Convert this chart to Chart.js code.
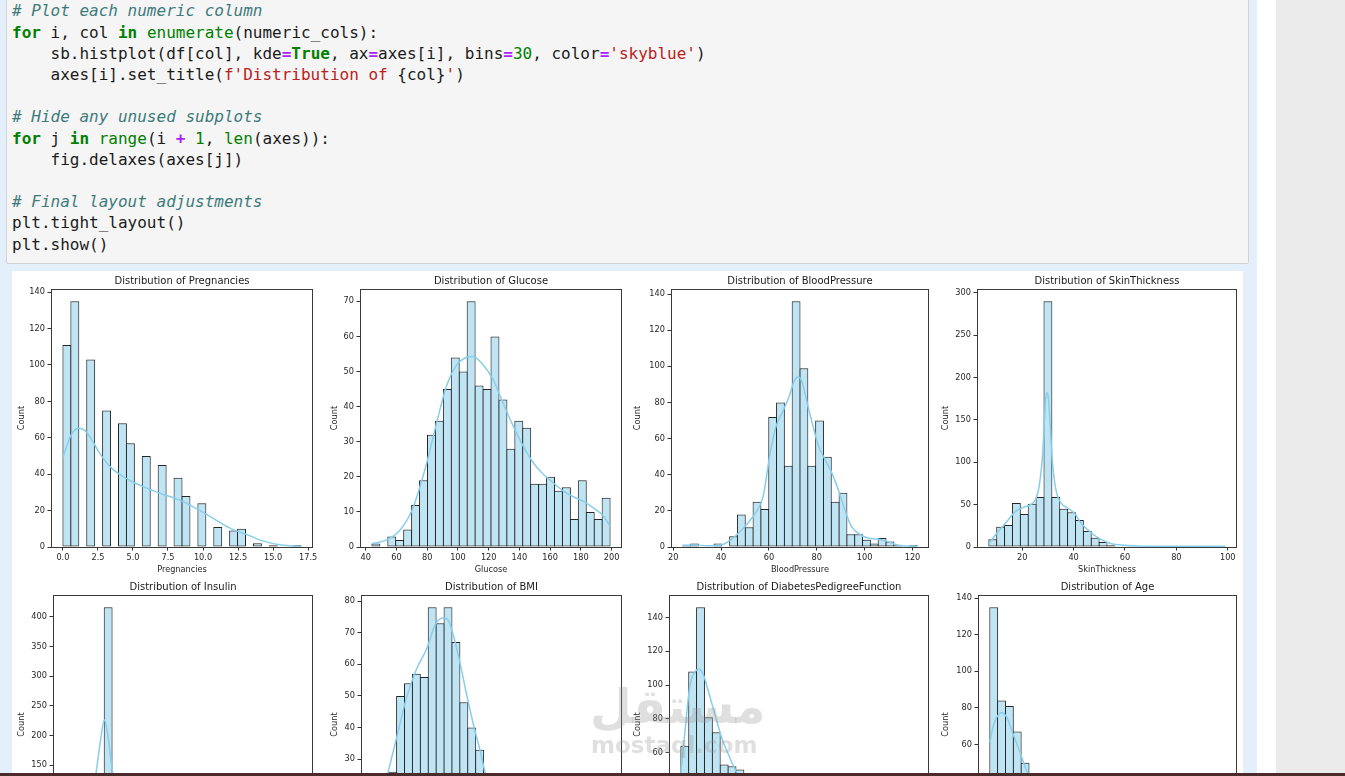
<!doctype html>
<meta charset="utf-8">
<title>Distribution of numeric columns</title>
<style>
    body {
        margin: 0;
        width: 1345px;
        height: 776px;
        overflow: hidden;
        position: relative;
        background: #fff;
        font-family: "DejaVu Sans", sans-serif;
    }
    .cellbg { position: absolute; left: 0; top: 0; width: 1257px; height: 776px; background: #e3effa; }
    .side { position: absolute; left: 1276px; top: 0; width: 69px; height: 776px; background: #ebebeb; }
    .code {
        position: absolute; left: 6px; top: -2px; width: 1243px; height: 266px;
        background: #f5f5f5; border: 1px solid #d2d2d2; border-radius: 2px; box-sizing: border-box;
    }
    .code pre {
        margin: 0; position: absolute; left: 5px; top: 1.4px;
        font: 16px/21.2px "DejaVu Sans Mono", monospace; color: #1b1b1b;
    }
    .c { color: #3d7b7b; font-style: italic; }
    .k { color: #008000; font-weight: bold; }
    .nb { color: #008000; }
    .o { color: #aa22ff; font-weight: bold; }
    .m { color: #008000; }
    .s { color: #ba2121; }
    .figure { position: absolute; left: 12px; top: 271px; width: 1231px; height: 502px; background: #fff; overflow: hidden; }
    .plot { position: absolute; }
    .mark { position: absolute; color: rgba(150,150,150,0.3); font-weight: bold; white-space: nowrap; }
    .taskbar { position: absolute; left: 0; top: 773px; width: 1345px; height: 3px; background: #4a2a2a; }
</style>
<body>
    <div class="cellbg"></div>
    <div class="side"></div>
    <div class="code"><pre><span class="c"># Plot each numeric column</span>
<span class="k">for</span> i, col <span class="k">in</span> <span class="nb">enumerate</span>(numeric_cols):
    sb.histplot(df[col], kde<span class="o">=</span><span class="k">True</span>, ax<span class="o">=</span>axes[i], bins<span class="o">=</span><span class="m">30</span>, color<span class="o">=</span><span class="s">'skyblue'</span>)
    axes[i].set_title(<span class="s">f'Distribution of </span>{col}<span class="s">'</span>)

<span class="c"># Hide any unused subplots</span>
<span class="k">for</span> j <span class="k">in</span> <span class="nb">range</span>(i <span class="o">+</span> <span class="m">1</span>, <span class="nb">len</span>(axes)):
    fig.delaxes(axes[j])

<span class="c"># Final layout adjustments</span>
plt.tight_layout()
plt.show()</pre></div>
    <div class="figure" id="figure"></div>
    <div class="mark" style="left:590px; top:678px; font-size:48px;">مستقل</div>
    <div class="mark" style="left:591px; top:732px; font-size:23px;">mostaql.com</div>
    <div class="taskbar"></div>

    <script src="https://cdn.jsdelivr.net/npm/chart.js@4.4.1/dist/chart.umd.min.js"></script>
    <script>
        // histogram counts (30 bins each), data range, kde curve, ticks
        const pregnanciesCounts = [111, 135, 0, 103, 0, 75, 0, 68, 57, 0, 50, 0, 45, 0, 38, 28, 0, 24, 0, 11, 0, 9, 10, 0, 2, 0, 1, 0, 0, 1];
        const pregnanciesRange = [0, 17];
        const pregnanciesKde = [[0, 48.9], [0.3, 56.2], [0.66, 62.6], [1.15, 65.3], [1.64, 63.5], [2.13, 58], [2.62, 51.6], [3.35, 44.3], [4.09, 39.7], [4.82, 36.4], [5.8, 32.9], [7.02, 29.3], [8.25, 26], [9.47, 21.4], [10.7, 15.9], [11.92, 10.4], [13.14, 6.8], [14.37, 3.1], [15.59, 1.1], [16.81, 0.4], [17, 0.3]];
        const pregnanciesTicks = [0, 2.5, 5, 7.5, 10, 12.5, 15, 17.5];
        const pregnanciesCountTicks = [0, 20, 40, 60, 80, 100, 120, 140];

        const glucoseCounts = [1, 0, 3, 2, 5, 12, 19, 32, 36, 45, 54, 50, 70, 46, 45, 60, 42, 28, 36, 34, 18, 18, 20, 16, 17, 8, 19, 10, 8, 14];
        const glucoseRange = [44, 199];
        const glucoseKde = [[44, 1], [52.9, 1.9], [61.6, 4.5], [70.3, 10.7], [79.1, 23], [85.6, 34.5], [92.2, 45.4], [98.7, 51.6], [105.3, 54], [109.7, 54.3], [116.2, 52], [122.7, 47.8], [129.3, 41.1], [135.9, 34.5], [142.4, 28.8], [149, 24], [155.5, 20.7], [162, 18.3], [168.6, 15.9], [175.2, 14.3], [181.7, 13], [188.3, 11.1], [194.8, 8.8], [199, 5.9]];
        const glucoseTicks = [40, 60, 80, 100, 120, 140, 160, 180, 200];
        const glucoseCountTicks = [0, 10, 20, 30, 40, 50, 60, 70];

        const bloodPressureCounts = [1, 2, 0, 0, 2, 0, 6, 18, 11, 25, 21, 72, 80, 45, 136, 99, 45, 70, 50, 25, 30, 7, 7, 4, 2, 5, 3, 1, 0, 1];
        const bloodPressureRange = [24, 122];
        const bloodPressureKde = [[24, 0.9], [28.9, 1.1], [34.3, 0.7], [39.8, 1.1], [42.5, 2.6], [46.6, 6.8], [50.7, 12.4], [54.8, 19.7], [57.6, 28], [60.3, 50.2], [63, 66.8], [65.8, 75], [68.5, 83.4], [70.5, 91.7], [72.3, 94.1], [74, 90.8], [76, 79.7], [78.1, 68.6], [80.8, 55.7], [83.5, 48.3], [86.3, 41], [89, 31.7], [91.7, 20.7], [94.5, 11.4], [97.2, 7.7], [101.3, 5], [105.4, 4.4], [109.5, 3.1], [113.6, 1.1], [118, 0.5], [122, 0.4]];
        const bloodPressureTicks = [20, 40, 60, 80, 100, 120];
        const bloodPressureCountTicks = [0, 20, 40, 60, 80, 100, 120, 140];

        const skinThicknessCounts = [9, 24, 26, 52, 39, 51, 59, 290, 59, 45, 41, 32, 19, 11, 6, 2, 1, 1, 1, 0, 0, 0, 0, 0, 0, 0, 0, 0, 0, 1];
        const skinThicknessRange = [7, 99];
        const skinThicknessKde = [[7, 4], [10.2, 16.5], [14.1, 30.3], [17.4, 42], [20.7, 47], [23.3, 50], [25.2, 56], [26.6, 71.6], [27.9, 107], [28.8, 158], [29.4, 182], [30.1, 178], [30.9, 142.5], [31.8, 99], [33.1, 67.7], [35.1, 52], [37.7, 46], [40.3, 40], [42.9, 28.3], [46.9, 16.5], [50.8, 8.7], [54.7, 3.9], [60, 2], [65.2, 1.2], [75.7, 0.8], [88.8, 0.8], [99, 0.8]];
        const skinThicknessTicks = [20, 40, 60, 80, 100];
        const skinThicknessCountTicks = [0, 50, 100, 150, 200, 250, 300];

        const insulinCounts = [25, 55, 62, 55, 45, 416, 28, 15, 14, 10, 9, 7, 5, 4, 3, 3, 2, 2, 1, 1, 1, 1, 0, 1, 0, 0, 0, 0, 0, 1];
        const insulinRange = [14, 846];
        const insulinKde = [[14, 20], [50, 42], [80, 58], [100, 80], [123.8, 137], [137.8, 185], [153, 226], [167, 195], [180, 145], [200, 95], [230, 60], [300, 30], [400, 15], [500, 8], [600, 4], [700, 2], [846, 0.5]];
        const insulinTicks = [0, 200, 400, 600, 800];
        const insulinCountTicks = [0, 50, 100, 150, 200, 250, 300, 350, 400];

        const bmiCounts = [5, 12, 26, 50, 54, 57, 56, 78, 73, 78, 67, 48, 40, 33, 24, 20, 16, 9, 6, 5, 3, 3, 1, 1, 0, 1, 0, 0, 0, 1];
        const bmiRange = [18.2, 67.1];
        const bmiKde = [[18.2, 8], [19.8, 15], [21.38, 26], [23.11, 36.9], [25.17, 49.6], [27.2, 58.5], [29.3, 64.9], [31, 72.3], [32.7, 74.7], [33.75, 73.9], [34.8, 69.1], [36.2, 60.1], [37.5, 50.6], [38.9, 41.1], [40.3, 32.7], [41.3, 26], [43, 20], [46, 13], [50, 7], [55, 3.5], [60, 1.5], [67.1, 0.5]];
        const bmiTicks = [20, 30, 40, 50, 60];
        const bmiCountTicks = [0, 10, 20, 30, 40, 50, 60, 70, 80];

        const pedigreeCounts = [64, 108, 146, 81, 72, 53, 52, 50, 35, 26, 20, 14, 11, 8, 6, 5, 4, 3, 2, 2, 1, 1, 1, 0, 1, 0, 0, 0, 0, 1];
        const pedigreeRange = [0.078, 2.42];
        const pedigreeKde = [[0.078, 48], [0.117, 71.3], [0.166, 98.8], [0.216, 107.7], [0.255, 109.3], [0.298, 106.7], [0.348, 96.9], [0.414, 83], [0.48, 69.3], [0.546, 59.4], [0.629, 48.6], [0.75, 38], [0.9, 28], [1.1, 18], [1.3, 11], [1.5, 7], [1.7, 4], [1.9, 2.5], [2.1, 1.5], [2.42, 0.5]];
        const pedigreeTicks = [0, 0.5, 1, 1.5, 2, 2.5];
        const pedigreeCountTicks = [0, 20, 40, 60, 80, 100, 120, 140];

        const ageCounts = [135, 84, 81, 67, 50, 40, 30, 26, 35, 25, 35, 22, 24, 11, 13, 16, 9, 8, 12, 8, 7, 4, 6, 5, 2, 1, 0, 0, 0, 1];
        const ageRange = [21, 81];
        const ageKde = [[21, 61], [22, 70.8], [23.2, 76.3], [24.1, 77.3], [25.4, 74.5], [27, 65.3], [28.8, 55.2], [30.5, 45], [33, 37], [36, 32], [40, 28], [45, 22], [50, 15], [55, 10], [60, 7], [65, 4], [70, 2], [75, 1], [81, 0.5]];
        const ageTicks = [20, 30, 40, 50, 60, 70, 80];
        const ageCountTicks = [0, 20, 40, 60, 80, 100, 120, 140];

        const columns = [
            {name: "Pregnancies", counts: pregnanciesCounts, range: pregnanciesRange, kde: pregnanciesKde, xTicks: pregnanciesTicks, yTicks: pregnanciesCountTicks, decimals: 1},
            {name: "Glucose", counts: glucoseCounts, range: glucoseRange, kde: glucoseKde, xTicks: glucoseTicks, yTicks: glucoseCountTicks, decimals: 0},
            {name: "BloodPressure", counts: bloodPressureCounts, range: bloodPressureRange, kde: bloodPressureKde, xTicks: bloodPressureTicks, yTicks: bloodPressureCountTicks, decimals: 0},
            {name: "SkinThickness", counts: skinThicknessCounts, range: skinThicknessRange, kde: skinThicknessKde, xTicks: skinThicknessTicks, yTicks: skinThicknessCountTicks, decimals: 0},
            {name: "Insulin", counts: insulinCounts, range: insulinRange, kde: insulinKde, xTicks: insulinTicks, yTicks: insulinCountTicks, decimals: 0},
            {name: "BMI", counts: bmiCounts, range: bmiRange, kde: bmiKde, xTicks: bmiTicks, yTicks: bmiCountTicks, decimals: 0},
            {name: "DiabetesPedigreeFunction", counts: pedigreeCounts, range: pedigreeRange, kde: pedigreeKde, xTicks: pedigreeTicks, yTicks: pedigreeCountTicks, decimals: 1},
            {name: "Age", counts: ageCounts, range: ageRange, kde: ageKde, xTicks: ageTicks, yTicks: ageCountTicks, decimals: 0},
        ];

        // axes boxes in page pixels (2 rows x 4), gap = distance of "Count" label from the axes
        const slots = [
            {left: 51, top: 289, right: 313, bottom: 547, gap: 29},
            {left: 360, top: 289, right: 622, bottom: 547, gap: 25},
            {left: 671, top: 289, right: 929, bottom: 547, gap: 33},
            {left: 977, top: 289, right: 1237, bottom: 547, gap: 31},
            {left: 53, top: 595, right: 313, bottom: 854, gap: 31},
            {left: 361, top: 595, right: 622, bottom: 854, gap: 26},
            {left: 669, top: 595, right: 929, bottom: 854, gap: 31},
            {left: 978, top: 595, right: 1237, bottom: 854, gap: 32},
        ];

        const FIG_X = 12, FIG_Y = 271;
        const Y_AXIS_W = 42, X_AXIS_H = 34, TOP_PAD = 20, RIGHT_PAD = 10;
        const inkColor = "#262626";

        Chart.defaults.font.family = '"DejaVu Sans", sans-serif';
        Chart.defaults.color = inkColor;

        // matplotlib-like spines and axes title
        const framePlugin = {
            id: "frame",
            afterDraw(chart, args, opts) {
                const {ctx, chartArea: a} = chart;
                ctx.save();
                ctx.strokeStyle = "#3a3a3a";
                ctx.lineWidth = 1;
                ctx.strokeRect(Math.round(a.left) + 0.5, Math.round(a.top) + 0.5, Math.round(a.right - a.left) - 1, Math.round(a.bottom - a.top));
                ctx.fillStyle = "#1a1a1a";
                ctx.font = '10px "DejaVu Sans"';
                ctx.textAlign = "center";
                ctx.textBaseline = "middle";
                ctx.fillText(opts.title, (a.left + a.right) / 2, a.top - 8);
                ctx.restore();
            }
        };

        const plot = (col, slot) => {
            const [lo, hi] = col.range;
            const binWidth = (hi - lo) / col.counts.length;
            const margin = (hi - lo) * 0.05;
            const bars = col.counts.map((c, i) => ({x: lo + binWidth * (i + 0.5), y: c}));
            const kde = col.kde.map(([x, y]) => ({x: x, y: y}));
            const areaW = slot.right - slot.left;
            const binPx = areaW * binWidth / (hi - lo + 2 * margin);

            const div = document.createElement("div");
            div.className = "plot";
            div.style.left = (slot.left - Y_AXIS_W - FIG_X) + "px";
            div.style.top = (slot.top - TOP_PAD - FIG_Y) + "px";
            const canvas = document.createElement("canvas");
            canvas.width = areaW + Y_AXIS_W + RIGHT_PAD;
            canvas.height = (slot.bottom - slot.top) + TOP_PAD + X_AXIS_H;
            div.appendChild(canvas);
            document.querySelector("#figure").appendChild(div);

            const tickFont = {size: 8.2};
            const grid = {display: true, drawOnChartArea: false, drawTicks: true, tickLength: 3.5, tickColor: "#333", tickWidth: 1, offset: false};

            new Chart(canvas.getContext("2d"), {
                type: "bar",
                data: {
                    datasets: [{
                        type: "line",
                        data: kde,
                        borderColor: "#87ceeb",
                        borderWidth: 1.5,
                        pointRadius: 0,
                        cubicInterpolationMode: "monotone",
                        order: 0,
                    }, {
                        type: "bar",
                        data: bars,
                        backgroundColor: "rgba(135,206,235,0.53)",
                        borderColor: inkColor,
                        borderWidth: 1,
                        borderSkipped: false,
                        barPercentage: (binPx + 1) / binPx,
                        categoryPercentage: 1,
                        grouped: false,
                        order: 1,
                    }],
                },
                options: {
                    responsive: false,
                    animation: false,
                    layout: {padding: {top: TOP_PAD, right: RIGHT_PAD, left: 0, bottom: 0}},
                    plugins: {
                        legend: {display: false},
                        tooltip: {enabled: false},
                        frame: {title: "Distribution of " + col.name},
                    },
                    scales: {
                        x: {
                            type: "linear",
                            min: lo - margin,
                            max: hi + margin,
                            offset: false,
                            afterBuildTicks: (s) => { s.ticks = col.xTicks.map(v => ({value: v})); },
                            afterFit: (s) => { s.height = X_AXIS_H; },
                            ticks: {
                                font: tickFont, padding: 2, autoSkip: false, maxRotation: 0,
                                callback: (v) => col.decimals ? Number(v).toFixed(col.decimals) : v,
                            },
                            grid: grid,
                            border: {display: false},
                            title: {display: true, text: col.name, font: {size: 8.2}, padding: {top: 0, bottom: 6}},
                        },
                        y: {
                            type: "linear",
                            min: 0,
                            max: Math.max(...col.counts) * 1.05,
                            afterBuildTicks: (s) => { s.ticks = col.yTicks.map(v => ({value: v})); },
                            afterFit: (s) => { s.width = Y_AXIS_W; },
                            ticks: {font: tickFont, padding: 2.5},
                            grid: grid,
                            border: {display: false},
                            title: {display: true, text: "Count", font: {size: 8.2}, padding: {top: Y_AXIS_W - slot.gap - 4.9, bottom: 0}},
                        },
                    },
                },
                plugins: [framePlugin],
            });
        };

        columns.forEach((col, i) => plot(col, slots[i]));
    </script>
</body>
